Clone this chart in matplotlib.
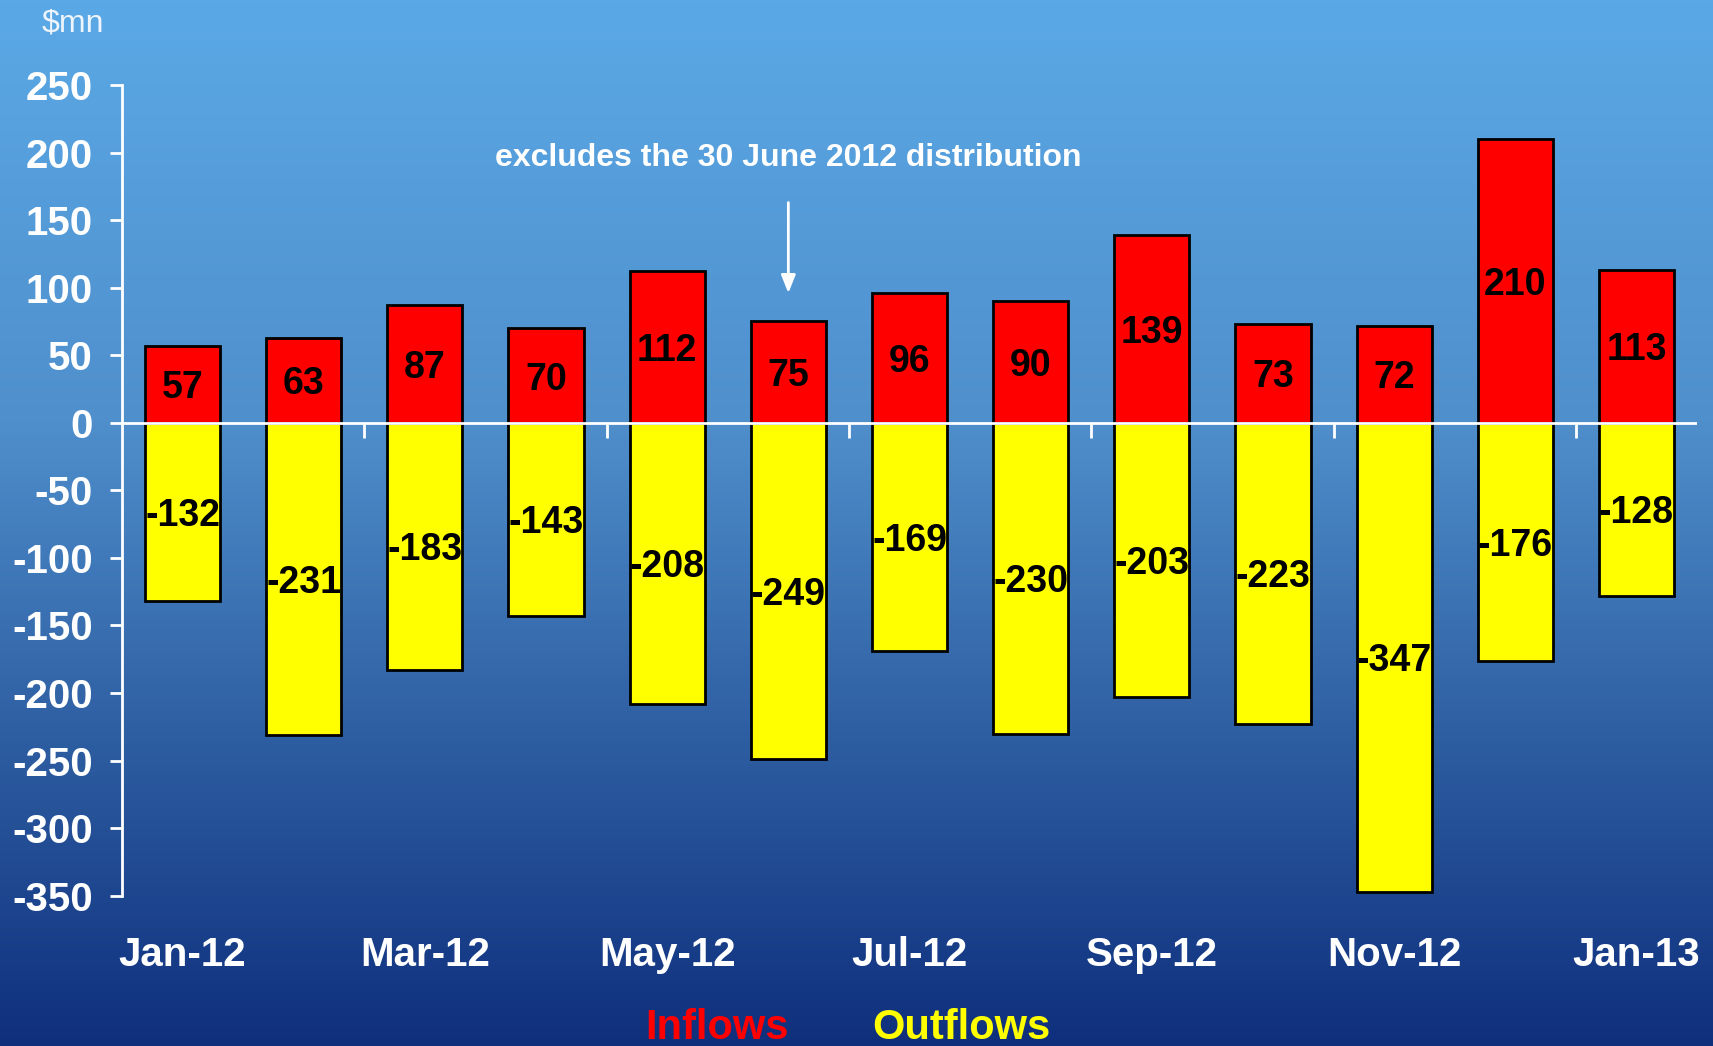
"""
Monthly inflows and outflows ($mn), Jan-12 to Jan-13.
"""

# Imports
import matplotlib
matplotlib.use("Agg")
import matplotlib.pyplot as plt
import numpy as np
from matplotlib.colors import LinearSegmentedColormap

# ----------------------------------------------------------------------------------------------------------------------
# Data

months = ["Jan-12", "Feb-12", "Mar-12", "Apr-12", "May-12", "Jun-12", "Jul-12",
          "Aug-12", "Sep-12", "Oct-12", "Nov-12", "Dec-12", "Jan-13"]
inflows = [57, 63, 87, 70, 112, 75, 96, 90, 139, 73, 72, 210, 113]
outflows = [-132, -231, -183, -143, -208, -249, -169, -230, -203, -223, -347, -176, -128]
yTicks = [250, 200, 150, 100, 50, 0, -50, -100, -150, -200, -250, -300, -350]
note = "excludes the 30 June 2012 distribution"
noteMonth = "Jun-12"

# ----------------------------------------------------------------------------------------------------------------------

plt.rcParams['font.family'] = ['Liberation Sans', 'DejaVu Sans']
plt.rcParams['axes.unicode_minus'] = False

fig = plt.figure(figsize=(17.13, 10.46), dpi=100)

# Background gradient
bg = fig.add_axes([0, 0, 1, 1], zorder=-10)
bgCmap = LinearSegmentedColormap.from_list(
    "bg", [(0.0, "#5aa9e6"), (0.4, "#4f8fcc"), (0.75, "#29579c"), (1.0, "#0f2f7d")])
bg.imshow(np.linspace(0, 1, 256).reshape(-1, 1), cmap=bgCmap, aspect='auto',
          extent=[0, 1, 0, 1], origin='upper')
bg.set_axis_off()

ax = fig.add_axes([0.0712, 0.1437, 0.9195, 0.775])
ax.patch.set_alpha(0)

x = np.arange(len(months))
ax.bar(x, inflows, width=0.62, color="#ff0000", edgecolor="black", linewidth=2, zorder=2)
ax.bar(x, outflows, width=0.62, color="#ffff00", edgecolor="black", linewidth=2, zorder=2)

for xi, v in zip(x, inflows):
    ax.text(xi, v / 2, str(v), ha='center', va='center_baseline', fontsize=27, fontweight='bold',
            color='black', zorder=4)
for xi, v in zip(x, outflows):
    ax.text(xi, v / 2, str(v), ha='center', va='center_baseline', fontsize=27, fontweight='bold',
            color='black', zorder=4)

ax.set_xlim(-0.5, len(months) - 0.5)
ax.set_ylim(min(yTicks), max(yTicks))

# Zero line with category tick marks
ax.axhline(0, color='white', linewidth=2, zorder=3)
ymin, ymax = ax.get_ylim()
zeroAxis = ax.secondary_xaxis((0 - ymin) / (ymax - ymin))
for side in ['top', 'bottom']:
    zeroAxis.spines[side].set_visible(False)
zeroAxis.set_xticks(x[1:-1:2] + 0.5)
zeroAxis.xaxis.set_ticks_position('bottom')
zeroAxis.tick_params(axis='x', which='both', direction='out', length=11, width=2, color='white',
                     labelbottom=False, labeltop=False)

# Axes styling
for side in ['top', 'right', 'bottom']:
    ax.spines[side].set_visible(False)
ax.spines['left'].set_color('white')
ax.spines['left'].set_linewidth(2)

ax.set_yticks(yTicks)
ax.set_yticklabels([str(t) for t in yTicks])
ax.tick_params(axis='y', direction='out', length=9, width=2, color='white', pad=12,
               labelsize=29, labelcolor='white')
for lbl in ax.get_yticklabels():
    lbl.set_fontweight('bold')

ax.set_xticks(x[::2])
ax.set_xticklabels(months[::2])
ax.tick_params(axis='x', length=0, pad=29, labelsize=29, labelcolor='white')
for lbl in ax.get_xticklabels():
    lbl.set_fontweight('bold')

# Note with arrow
nx = months.index(noteMonth)
ax.text(nx, 196, note, ha='center', va='center', fontsize=23, fontweight='bold', color='white')
ax.annotate("", xy=(nx, 96), xytext=(nx, 163),
            arrowprops=dict(arrowstyle='-|>,head_length=0.4,head_width=0.16', color='white',
                            lw=2, mutation_scale=27, shrinkA=0, shrinkB=0))

# Unit label and legend texts
fig.text(73 / 1713, 1 - 23 / 1046, r"\$mn", ha='center', va='center', fontsize=23, color='#eef4fb')
fig.text(717 / 1713, 0.017, "Inflows", ha='center', va='center', fontsize=30, fontweight='bold',
         color='#ff0000')
fig.text(961 / 1713, 0.017, "Outflows", ha='center', va='center', fontsize=30, fontweight='bold',
         color='#ffff00')

fig.savefig("out.png", dpi=100)
